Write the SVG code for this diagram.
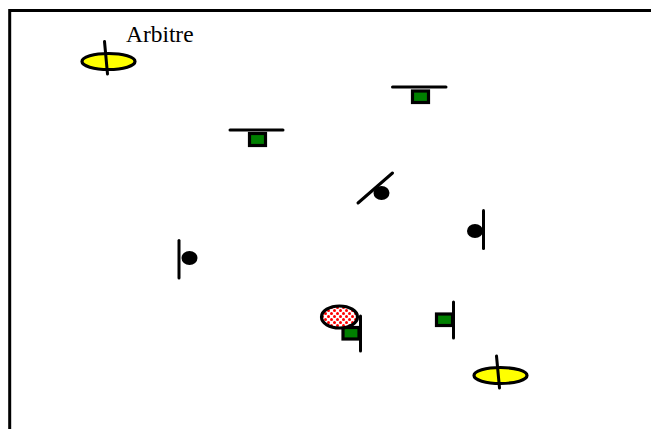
<svg xmlns="http://www.w3.org/2000/svg" width="651" height="429" viewBox="0 0 651 429">
<defs>
<pattern id="dots" width="6" height="6" patternUnits="userSpaceOnUse">
<rect width="6" height="6" fill="#fff"/>
<circle cx="1.500" cy="1.500" r="1.500" fill="#f00"/>
<circle cx="4.500" cy="4.500" r="1.500" fill="#f00"/>
</pattern>
</defs>
<style>
.ln{stroke:#000;stroke-width:3;fill:none;stroke-linecap:round}
.gr{fill:#008000;stroke:#000;stroke-width:3.200}
.ye{fill:#ff0;stroke:#000;stroke-width:3.200}
.bl{fill:#000}
</style>
<rect width="651" height="429" fill="#fff"/>
<path id="frame" d="M9.700 429V10.500H651" fill="none" stroke="#000" stroke-width="3"/>
<g id="connectors"/>
<g id="arbitre1"><ellipse class="ye" cx="108.500" cy="61.500" rx="26.500" ry="8"/><path class="ln" d="M104.500 41.500L107.500 74"/></g>
<text x="126" y="41.500" font-family="Liberation Serif, serif" font-size="23.400" fill="#000">Arbitre</text>
<g id="player1"><path class="ln" d="M230 130H283"/><rect class="gr" x="249.500" y="133.500" width="16" height="12"/></g>
<g id="player2"><path class="ln" d="M392.500 87H446"/><rect class="gr" x="412.500" y="91" width="16" height="11.500"/></g>
<g id="player3"><path class="ln" d="M358 203L392.500 173"/><ellipse class="bl" cx="381.500" cy="193" rx="8" ry="7"/></g>
<g id="player4"><path class="ln" d="M483.500 210.500V248.500"/><ellipse class="bl" cx="475" cy="231" rx="8" ry="7"/></g>
<g id="player5"><path class="ln" d="M179 240.500V278"/><ellipse class="bl" cx="189.500" cy="258" rx="8" ry="7"/></g>
<g id="player6"><path class="ln" d="M453.500 302V338"/><rect class="gr" x="436.500" y="314" width="16" height="11.500"/></g>
<g id="player7"><path class="ln" d="M360.500 316V351"/><rect class="gr" x="343" y="327.500" width="16" height="11.500"/></g>
<g id="ball"><ellipse cx="339.500" cy="317" rx="18" ry="11" fill="url(#dots)" stroke="#000" stroke-width="3.200"/></g>
<g id="arbitre2"><ellipse class="ye" cx="500.500" cy="375.500" rx="26.500" ry="8"/><path class="ln" d="M496.500 356L499.500 388"/></g>
</svg>
